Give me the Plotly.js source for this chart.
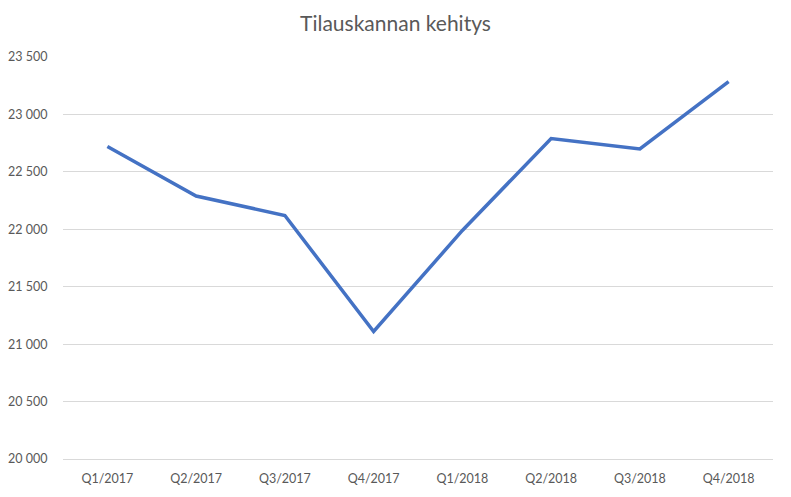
<!DOCTYPE html>
<html>
<head>
<meta charset="utf-8">
<script src="https://cdn.plot.ly/plotly-3.0.1.min.js"></script>
<style>html,body{margin:0;padding:0;background:#fff;}#chart{width:791px;height:497px;}</style>
</head>
<body>
<div id="chart"></div>
<script>
const categories = ["Q1/2017","Q2/2017","Q3/2017","Q4/2017","Q1/2018","Q2/2018","Q3/2018","Q4/2018"];
const values = [22720, 22290, 22120, 21110, 21990, 22790, 22700, 23285];
const yTicks = [20000, 20500, 21000, 21500, 22000, 22500, 23000, 23500];

const trace = {
  x: categories,
  y: values,
  type: "scatter",
  mode: "lines",
  line: {color: "#4472C4", width: 3.5},
  hoverinfo: "x+y"
};

const layout = {
  width: 791,
  height: 497,
  margin: {l: 63, r: 18, t: 57, b: 38},
  paper_bgcolor: "#ffffff",
  plot_bgcolor: "#ffffff",
  separators: ", ",
  showlegend: false,
  font: {family: "Lato, 'Open Sans', sans-serif", color: "#595959", size: 12.5},
  title: {
    text: "Tilauskannan kehitys",
    font: {family: "Lato, 'Open Sans', sans-serif", size: 21, color: "#595959"},
    x: 0.5, xanchor: "center",
    y: 0.952, yanchor: "middle"
  },
  xaxis: {
    type: "category",
    range: [-0.5, 7.5],
    showgrid: false,
    showline: true,
    linecolor: "#d9d9d9",
    linewidth: 1,
    ticks: "outside",
    ticklen: 8,
    tickcolor: "rgba(0,0,0,0)",
    tickfont: {size: 12.5, color: "#595959"},
    fixedrange: true
  },
  yaxis: {
    range: [20000, 23500],
    tickvals: yTicks,
    tickformat: ",d",
    showgrid: true,
    gridcolor: "#d9d9d9",
    gridwidth: 1,
    zeroline: false,
    showline: false,
    ticks: "outside",
    ticklen: 12,
    tickcolor: "rgba(0,0,0,0)",
    tickfont: {size: 12.5, color: "#595959"},
    fixedrange: true
  }
};

Plotly.newPlot("chart", [trace], layout, {displayModeBar: false, staticPlot: true});
</script>
</body>
</html>
